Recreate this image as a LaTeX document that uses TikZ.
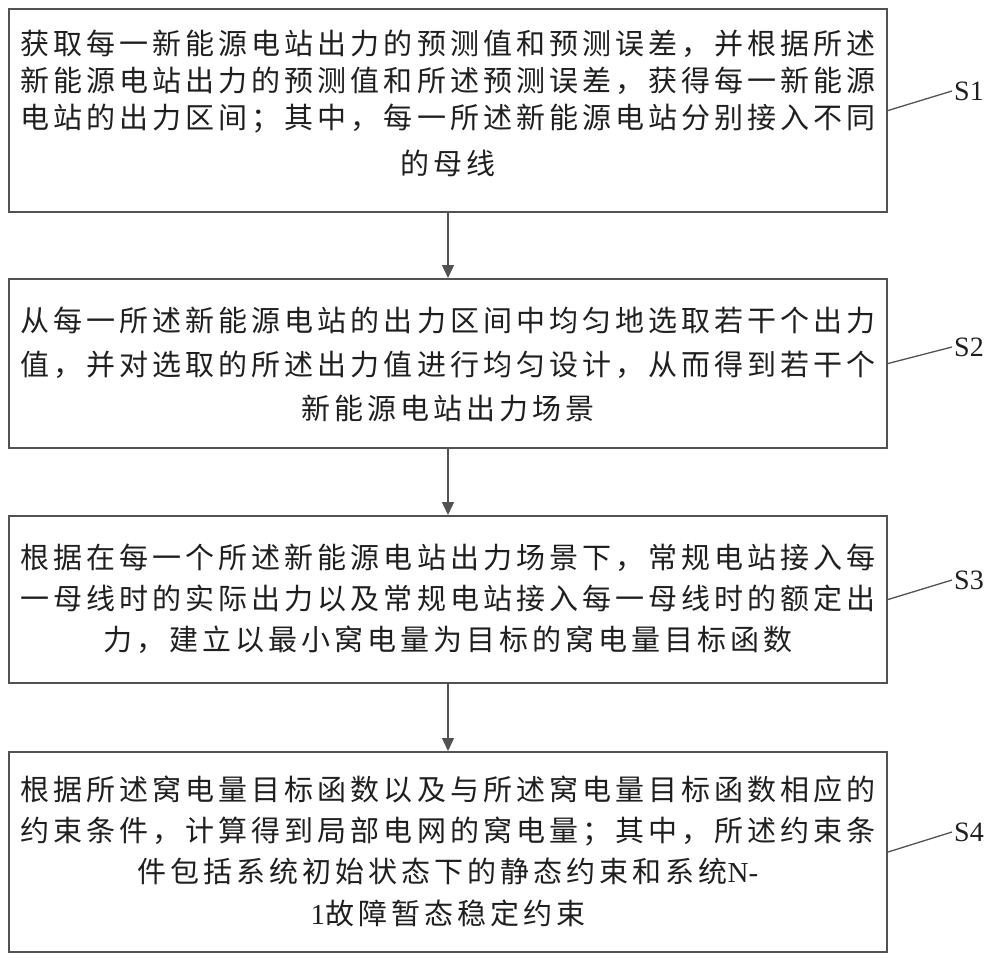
\documentclass[tikz,border=0pt]{standalone}
\usepackage{fontspec}
\setmainfont{Liberation Serif}
\newfontfamily\cjk[LetterSpace=13.8]{Noto Sans CJK SC}
\usetikzlibrary{arrows.meta}
\definecolor{boxgray}{gray}{0.32}
\definecolor{inkgray}{gray}{0.12}
\tikzset{
  stepbox/.style={draw=boxgray, line width=2pt, minimum width=878pt, inner sep=0pt},
  steptext/.style={align=center, inner sep=0pt, text=inkgray,
    font=\cjk\fontsize{29}{#1}\selectfont},
  steplabel/.style={anchor=west, inner sep=2pt, text=inkgray,
    font=\fontsize{28}{30}\selectfont},
  flow/.style={draw=boxgray, line width=1.4pt, -{Triangle[length=13pt,width=12pt]}},
  lead/.style={draw=boxgray, line width=1.3pt}
}

\begin{document}
\begin{tikzpicture}[x=1pt,y=-1pt]
\useasboundingbox (0,0) rectangle (1000,964);

% boxes
\node[stepbox, minimum height=203pt] (s1box) at (448,110.5) {};
\node[stepbox, minimum height=169pt] (s2box) at (448,363.5) {};
\node[stepbox, minimum height=167pt] (s3box) at (448,599.5) {};
\node[stepbox, minimum height=200pt] (s4box) at (448,852) {};

% texts
\node[steptext=37] (s1text) at (448,103) {获取每一新能源电站出力的预测值和预测误差，并根据所述\\
新能源电站出力的预测值和所述预测误差，获得每一新能源\\
电站的出力区间；其中，每一所述新能源电站分别接入不同\\[9pt]
的母线};
\node[steptext=44] (s2text) at (448,364.5) {从每一所述新能源电站的出力区间中均匀地选取若干个出力\\
值，并对选取的所述出力值进行均匀设计，从而得到若干个\\
新能源电站出力场景};
\node[steptext=41] (s3text) at (448,599) {根据在每一个所述新能源电站出力场景下，常规电站接入每\\
一母线时的实际出力以及常规电站接入每一母线时的额定出\\
力，建立以最小窝电量为目标的窝电量目标函数};
\node[steptext=41.3] (s4text) at (448,851) {根据所述窝电量目标函数以及与所述窝电量目标函数相应的\\
约束条件，计算得到局部电网的窝电量；其中，所述约束条\\
件包括系统初始状态下的静态约束和系统{\rmfamily N-}\\
{\rmfamily 1}故障暂态稳定约束};

% step labels
\node[steplabel] (l1) at (952,91) {S1};
\node[steplabel] (l2) at (952,347) {S2};
\node[steplabel] (l3) at (952,580) {S3};
\node[steplabel] (l4) at (952,832) {S4};
\draw[lead] (s1box.east) -- (l1.west);
\draw[lead] (s2box.east) -- (l2.west);
\draw[lead] (s3box.east) -- (l3.west);
\draw[lead] (s4box.east) -- (l4.west);

% arrows
\draw[flow] (s1box.south) -- (s2box.north);
\draw[flow] (s2box.south) -- (s3box.north);
\draw[flow] (s3box.south) -- (s4box.north);
\end{tikzpicture}
\end{document}
